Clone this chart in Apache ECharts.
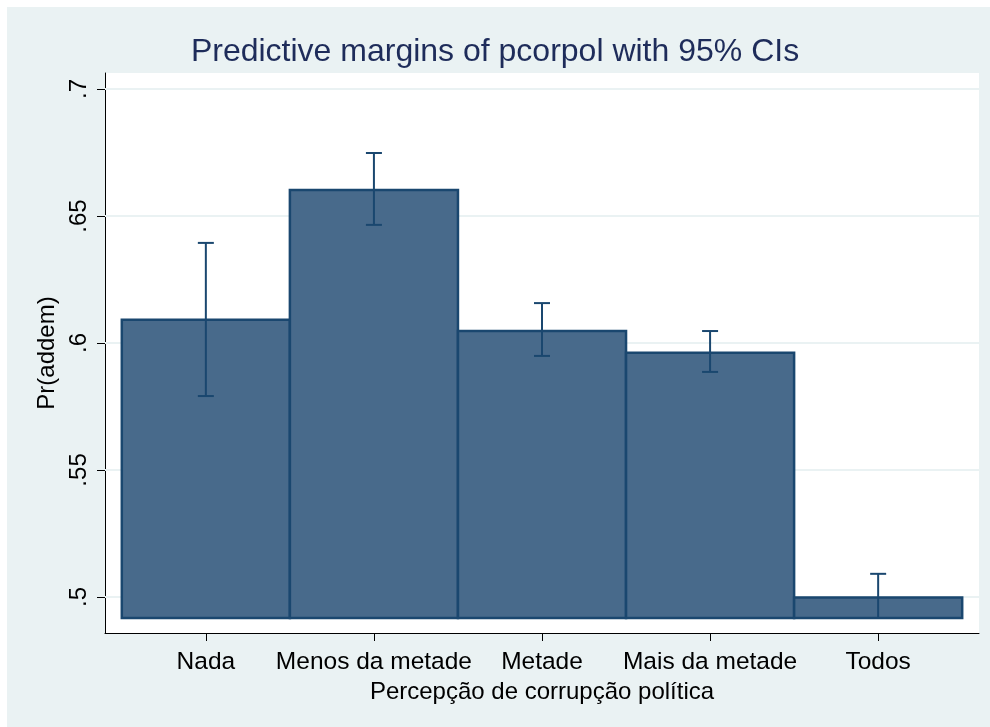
<!DOCTYPE html>
<html>
<head>
<meta charset="utf-8">
<script src="https://cdn.jsdelivr.net/npm/echarts@6/dist/echarts.min.js"></script>
<style>
  html, body { margin: 0; padding: 0; background: #fff; }
  #chart { width: 990px; height: 727px; }
</style>
</head>
<body>
<div id="chart"></div>
<script>
// 数据
var categories = ["Nada", "Menos da metade", "Metade", "Mais da metade", "Todos"];
var margins = [0.6091, 0.6602, 0.6047, 0.5961, 0.4998];
var ciLow = [0.5791, 0.6465, 0.5949, 0.5886, 0.4917];
var ciHigh = [0.6394, 0.6748, 0.6157, 0.6047, 0.5091];
var barBase = 0.4917;
var yTicks = [0.5, 0.55, 0.6, 0.65, 0.7];
var yTickLabels = [".5", ".55", ".6", ".65", ".7"];
var xTicks = [1, 2, 3, 4, 5];

var navy = "#1a476f";
var barFill = "#486a8b";

var chart = echarts.init(document.getElementById("chart"));

var barData = categories.map(function (c, i) {
  return [i + 1, margins[i], ciLow[i], ciHigh[i]];
});

// 网格线
function renderGrid(params, api) {
  var y = api.value(0);
  var a = api.coord([0.4, y]);
  var b = api.coord([5.6, y]);
  return {
    type: "line",
    shape: { x1: a[0], y1: a[1], x2: b[0], y2: b[1] },
    style: { stroke: "#eaf2f3", lineWidth: 2 }
  };
}

function renderBar(params, api) {
  var x = api.value(0);
  var y = api.value(1);
  var p1 = api.coord([x - 0.5, y]);
  var p2 = api.coord([x + 0.5, barBase]);
  return {
    type: "rect",
    shape: { x: p1[0], y: p1[1], width: p2[0] - p1[0], height: p2[1] - p1[1] },
    style: { fill: barFill, stroke: navy, lineWidth: 2.5 }
  };
}

function renderErr(params, api) {
  var x = api.value(0);
  var lo = api.coord([x, api.value(2)]);
  var hi = api.coord([x, api.value(3)]);
  var cap = 8;
  var st = { stroke: navy, lineWidth: 2 };
  return {
    type: "group",
    children: [
      { type: "line", shape: { x1: lo[0], y1: lo[1], x2: hi[0], y2: hi[1] }, style: st },
      { type: "line", shape: { x1: lo[0] - cap, y1: lo[1], x2: lo[0] + cap, y2: lo[1] }, style: st },
      { type: "line", shape: { x1: hi[0] - cap, y1: hi[1], x2: hi[0] + cap, y2: hi[1] }, style: st }
    ]
  };
}

var option = {
  backgroundColor: "#fff",
  animation: false,
  textStyle: { fontFamily: "Liberation Sans, Arial, sans-serif" },
  graphic: [
    {
      type: "rect",
      z: -10,
      silent: true,
      shape: { x: 7, y: 7, width: 990, height: 727 },
      style: { fill: "#eaf2f3" }
    }
  ],
  title: {
    text: "Predictive margins of pcorpol with 95% CIs",
    left: "center",
    top: 31,
    textStyle: { fontSize: 32, fontWeight: "normal", color: "#1e2c5a" }
  },
  grid: {
    left: 105,
    right: 11,
    top: 73,
    bottom: 94,
    show: true,
    backgroundColor: "#fff",
    borderWidth: 0
  },
  xAxis: {
    type: "value",
    min: 0.4,
    max: 5.6,
    name: "Percepção de corrupção política",
    nameLocation: "middle",
    nameGap: 45,
    nameTextStyle: { fontSize: 24, color: "#000" },
    axisLine: { show: true, onZero: false, lineStyle: { color: "#000", width: 1 } },
    axisTick: { show: true, length: 8, customValues: xTicks, lineStyle: { color: "#000" } },
    axisLabel: {
      fontSize: 24.5,
      color: "#000",
      margin: 17,
      customValues: xTicks,
      formatter: function (v) { return categories[Math.round(v) - 1] || ""; }
    },
    splitLine: { show: false }
  },
  yAxis: {
    type: "value",
    min: 0.4858,
    max: 0.7063,
    name: "Pr(addem)",
    nameLocation: "middle",
    nameGap: 40,
    nameRotate: 90,
    nameTextStyle: { fontSize: 24, color: "#000" },
    axisLine: { show: true, onZero: false, lineStyle: { color: "#000", width: 1 } },
    axisTick: { show: true, length: 8, customValues: yTicks, lineStyle: { color: "#000" } },
    axisLabel: {
      fontSize: 24,
      color: "#000",
      rotate: 90,
      margin: 14,
      customValues: yTicks,
      formatter: function (v) {
        var i = yTicks.findIndex(function (t) { return Math.abs(t - v) < 1e-6; });
        return i >= 0 ? yTickLabels[i] : "";
      }
    },
    splitLine: { show: false }
  },
  series: [
    {
      type: "custom",
      renderItem: renderGrid,
      data: yTicks.map(function (t) { return [t]; }),
      silent: true,
      z: 1
    },
    {
      type: "custom",
      renderItem: renderBar,
      data: barData,
      z: 3
    },
    {
      type: "custom",
      renderItem: renderErr,
      data: barData,
      z: 4
    }
  ]
};

chart.setOption(option);
</script>
</body>
</html>
